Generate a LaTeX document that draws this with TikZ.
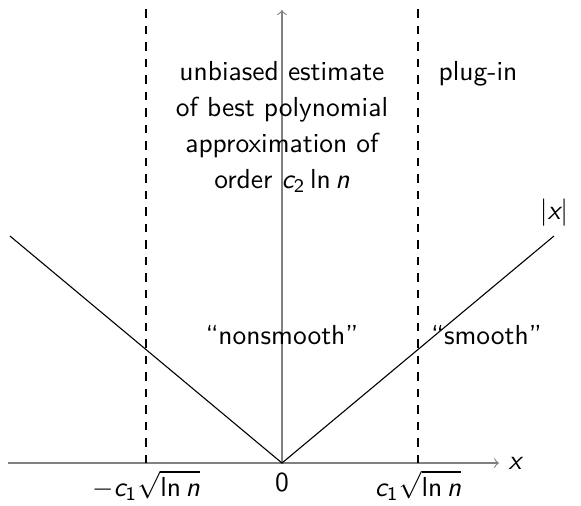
\documentclass[tikz,border=0pt]{standalone}
\usepackage{amsmath}
\usetikzlibrary{positioning}
\renewcommand{\familydefault}{\sfdefault}
\newcommand{\mv}[1]{\textit{#1}}
\newcommand{\sqln}{\sqrt{\textsf{ln}\,\mv{n}}}

\begin{document}
\begin{tikzpicture}[
  font=\sffamily,
  ax/.style={->, gray},
  bnd/.style={dashed},
  txt/.style={align=center, inner sep=3.33pt}
]
\useasboundingbox (-3.604,-0.537) rectangle (3.822,5.918);
% axes and bounds
\coordinate (o) at (0,0);
\coordinate (xl) at (-3.502,0);
\coordinate (xr) at (2.774,0);
\coordinate (yt) at (0,5.790);
\coordinate (cl) at (-1.738,0);
\coordinate (cr) at (1.738,0);
\coordinate (clt) at (-1.738,5.815);
\coordinate (crt) at (1.738,5.815);
\coordinate (al) at (-3.476,2.901);
\coordinate (ar) at (3.476,2.901);
\draw[ax] (xl) -- (xr) node[right, text=black] (xlab) {$\mv{x}$};
\draw[ax] (o) -- (yt);
\draw[bnd] (cl) -- (clt);
\draw[bnd] (cr) -- (crt);
\draw (al) -- (o) -- (ar);
\node[above=0mm of ar] (abs) {$|\mv{x}|$};
% tick labels
\node[below=-0.3mm of cl] (ml) {$-\mv{c}_{\textsf{1}}\sqln$};
\node[below=0mm of o] (zero) {0};
\node[below=-0.3mm of cr] (mr) {$\mv{c}_{\textsf{1}}\sqln$};
% regions
\node[txt, anchor=north, font=\fontsize{10}{13}\selectfont] (ub) at (0,5.253)
  {unbiased estimate\\of best polynomial\\approximation of\\order $\mv{c}_{\textsf{2}}\,\textsf{ln}\,\mv{n}$};
\node[txt, anchor=base] (pl) at (2.505,4.895) {plug-in};
\node[txt] (ns) at (0,1.636) {``nonsmooth''};
\node[txt] (sm) at (2.614,1.636) {``smooth''};
\end{tikzpicture}
\end{document}
